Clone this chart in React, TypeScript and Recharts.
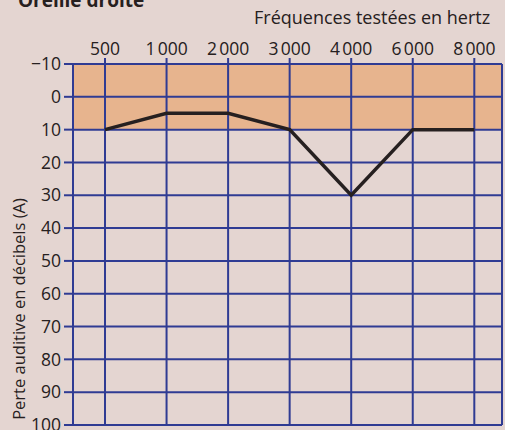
import React from 'react';
import { LineChart, Line, XAxis, YAxis, CartesianGrid, ReferenceLine } from 'recharts';

const frequencies = ['500', '1\u202F000', '2\u202F000', '3\u202F000', '4\u202F000', '6\u202F000', '8\u202F000'];
const hearingLoss = [10, 5, 5, 10, 30, 10, 10];
const yTicks = [-10, 0, 10, 20, 30, 40, 50, 60, 70, 80, 90, 100];
// zone d'audition normale : de -10 à 10 dB
const normalZone = [-10, 10];

const data = frequencies.map((f, i) => ({ idx: i, freq: f, loss: hearingLoss[i] }));

const BLUE = '#2f3b93';
const INK = '#262020';
const ORANGE = '#e7b48e';
const FONT = '"Open Sans", "Noto Sans", sans-serif';

// one fill per stripe between horizontal grid lines (top to bottom)
const bandFill = yTicks.map(t => (t >= normalZone[0] && t < normalZone[1] ? ORANGE : 'transparent'));

const YLabel = () => (
  <text
    x={0}
    y={0}
    transform="translate(21 309) rotate(-90)"
    textAnchor="middle"
    dominantBaseline="middle"
    fontSize={16.5}
    fill={INK}
    fontFamily={FONT}
  >
    Perte auditive en décibels (A)
  </text>
);

export default function App() {
  return (
    <div style={{ position: 'fixed', left: 0, top: 0, width: 505, height: 430, background: '#e4d5d1', overflow: 'hidden', fontFamily: FONT }}>
      <div style={{ position: 'absolute', left: 18, top: -13, fontSize: 19, fontWeight: 700, color: INK }}>
        Oreille droite
      </div>
      <div style={{ position: 'absolute', left: 254, top: 5, fontSize: 18, color: INK, whiteSpace: 'nowrap' }}>
        Fréquences testées en hertz
      </div>
      <LineChart width={505} height={430} data={data} margin={{ top: 34, right: 3, bottom: 5, left: 0 }}>
        <CartesianGrid stroke={BLUE} strokeWidth={2} horizontalFill={bandFill} fillOpacity={1} />
        <XAxis
          dataKey="idx"
          type="number"
          orientation="top"
          domain={[-0.52, 6.45]}
          ticks={[0, 1, 2, 3, 4, 5, 6]}
          tickFormatter={(v: number) => frequencies[v] ?? ''}
          height={30}
          axisLine={false}
          tickLine={{ stroke: BLUE, strokeWidth: 2 }}
          tickSize={6}
          tickMargin={3}
          tick={{ fontSize: 17.5, fill: INK, fontFamily: FONT }}
          allowDataOverflow
        />
        <YAxis
          type="number"
          reversed
          domain={[-10, 100]}
          ticks={yTicks}
          tickFormatter={(v: number) => (v < 0 ? '\u2212' + Math.abs(v) : String(v))}
          width={73}
          axisLine={{ stroke: BLUE, strokeWidth: 2 }}
          tickLine={{ stroke: BLUE, strokeWidth: 2 }}
          tickSize={9}
          tickMargin={3}
          tick={{ fontSize: 17.5, fill: INK, fontFamily: FONT }}
          interval={0}
          label={<YLabel />}
        />
        <ReferenceLine x={6.45} stroke={BLUE} strokeWidth={2} ifOverflow="extendDomain" />
        <Line
          type="linear"
          dataKey="loss"
          stroke={INK}
          strokeWidth={3.5}
          dot={false}
          isAnimationActive={false}
        />
      </LineChart>
    </div>
  );
}
